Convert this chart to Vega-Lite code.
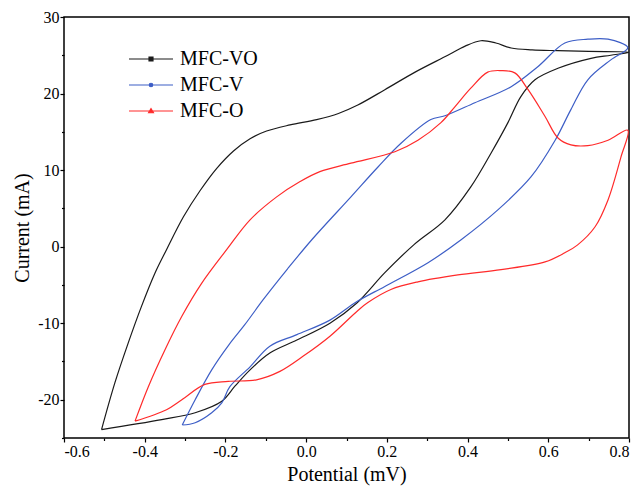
{
  "$schema": "https://vega.github.io/schema/vega-lite/v6.json",
  "width": 565,
  "height": 421,
  "autosize": {"type": "none"},
  "padding": {"left": 64, "top": 17, "right": 9, "bottom": 48},
  "background": "white",
  "config": {
    "view": {"stroke": "#000000", "strokeWidth": 1.5},
    "font": "Liberation Serif, Times New Roman, serif",
    "axis": {"labelFont": "Liberation Serif, Times New Roman, serif", "titleFont": "Liberation Serif, Times New Roman, serif"},
    "legend": {"labelFont": "Liberation Serif, Times New Roman, serif"}
  },
  "data": {
    "values": [
      {"s": "MFC-VO", "i": 1, "x": -0.507, "y": -23.9},
      {"s": "MFC-VO", "i": 2, "x": -0.474, "y": -17.8},
      {"s": "MFC-VO", "i": 3, "x": -0.441, "y": -12.6},
      {"s": "MFC-VO", "i": 4, "x": -0.408, "y": -7.8},
      {"s": "MFC-VO", "i": 5, "x": -0.375, "y": -3.5},
      {"s": "MFC-VO", "i": 6, "x": -0.346, "y": -0.4},
      {"s": "MFC-VO", "i": 7, "x": -0.304, "y": 3.9},
      {"s": "MFC-VO", "i": 8, "x": -0.263, "y": 7.3},
      {"s": "MFC-VO", "i": 9, "x": -0.222, "y": 10.2},
      {"s": "MFC-VO", "i": 10, "x": -0.18, "y": 12.5},
      {"s": "MFC-VO", "i": 11, "x": -0.139, "y": 14.1},
      {"s": "MFC-VO", "i": 12, "x": -0.098, "y": 15.1},
      {"s": "MFC-VO", "i": 13, "x": -0.04, "y": 15.9},
      {"s": "MFC-VO", "i": 14, "x": 0.026, "y": 16.6},
      {"s": "MFC-VO", "i": 15, "x": 0.08, "y": 17.4},
      {"s": "MFC-VO", "i": 16, "x": 0.128, "y": 18.5},
      {"s": "MFC-VO", "i": 17, "x": 0.195, "y": 20.5},
      {"s": "MFC-VO", "i": 18, "x": 0.27, "y": 22.8},
      {"s": "MFC-VO", "i": 19, "x": 0.351, "y": 25.0},
      {"s": "MFC-VO", "i": 20, "x": 0.394, "y": 26.2},
      {"s": "MFC-VO", "i": 21, "x": 0.433, "y": 26.9},
      {"s": "MFC-VO", "i": 22, "x": 0.47, "y": 26.6},
      {"s": "MFC-VO", "i": 23, "x": 0.508, "y": 25.95},
      {"s": "MFC-VO", "i": 24, "x": 0.56, "y": 25.7},
      {"s": "MFC-VO", "i": 25, "x": 0.624, "y": 25.6},
      {"s": "MFC-VO", "i": 26, "x": 0.7, "y": 25.5},
      {"s": "MFC-VO", "i": 27, "x": 0.8, "y": 25.4},
      {"s": "MFC-VO", "i": 28, "x": 0.755, "y": 25.0},
      {"s": "MFC-VO", "i": 29, "x": 0.706, "y": 24.6},
      {"s": "MFC-VO", "i": 30, "x": 0.624, "y": 23.3},
      {"s": "MFC-VO", "i": 31, "x": 0.567, "y": 21.8},
      {"s": "MFC-VO", "i": 32, "x": 0.532, "y": 19.6},
      {"s": "MFC-VO", "i": 33, "x": 0.5, "y": 16.2},
      {"s": "MFC-VO", "i": 34, "x": 0.458, "y": 12.2},
      {"s": "MFC-VO", "i": 35, "x": 0.408, "y": 7.8},
      {"s": "MFC-VO", "i": 36, "x": 0.344, "y": 3.5},
      {"s": "MFC-VO", "i": 37, "x": 0.268, "y": 0.3},
      {"s": "MFC-VO", "i": 38, "x": 0.195, "y": -3.4},
      {"s": "MFC-VO", "i": 39, "x": 0.125, "y": -7.4},
      {"s": "MFC-VO", "i": 40, "x": 0.059, "y": -10.0},
      {"s": "MFC-VO", "i": 41, "x": -0.023, "y": -12.2},
      {"s": "MFC-VO", "i": 42, "x": -0.09, "y": -13.9},
      {"s": "MFC-VO", "i": 43, "x": -0.139, "y": -16.1},
      {"s": "MFC-VO", "i": 44, "x": -0.176, "y": -18.2},
      {"s": "MFC-VO", "i": 45, "x": -0.209, "y": -20.2},
      {"s": "MFC-VO", "i": 46, "x": -0.275, "y": -21.7},
      {"s": "MFC-VO", "i": 47, "x": -0.358, "y": -22.6},
      {"s": "MFC-VO", "i": 48, "x": -0.507, "y": -23.9},

      {"s": "MFC-V", "i": 1, "x": -0.307, "y": -23.3},
      {"s": "MFC-V", "i": 2, "x": -0.275, "y": -20.0},
      {"s": "MFC-V", "i": 3, "x": -0.234, "y": -16.1},
      {"s": "MFC-V", "i": 4, "x": -0.191, "y": -12.8},
      {"s": "MFC-V", "i": 5, "x": -0.152, "y": -10.2},
      {"s": "MFC-V", "i": 6, "x": -0.106, "y": -6.9},
      {"s": "MFC-V", "i": 7, "x": -0.046, "y": -2.9},
      {"s": "MFC-V", "i": 8, "x": 0.014, "y": 0.9},
      {"s": "MFC-V", "i": 9, "x": 0.111, "y": 6.5},
      {"s": "MFC-V", "i": 10, "x": 0.178, "y": 10.4},
      {"s": "MFC-V", "i": 11, "x": 0.235, "y": 13.5},
      {"s": "MFC-V", "i": 12, "x": 0.309, "y": 16.6},
      {"s": "MFC-V", "i": 13, "x": 0.344, "y": 17.1},
      {"s": "MFC-V", "i": 14, "x": 0.418, "y": 18.8},
      {"s": "MFC-V", "i": 15, "x": 0.508, "y": 20.9},
      {"s": "MFC-V", "i": 16, "x": 0.574, "y": 23.5},
      {"s": "MFC-V", "i": 17, "x": 0.641, "y": 26.6},
      {"s": "MFC-V", "i": 18, "x": 0.698, "y": 27.1},
      {"s": "MFC-V", "i": 19, "x": 0.748, "y": 27.1},
      {"s": "MFC-V", "i": 20, "x": 0.797, "y": 26.0},
      {"s": "MFC-V", "i": 21, "x": 0.755, "y": 24.4},
      {"s": "MFC-V", "i": 22, "x": 0.698, "y": 21.8},
      {"s": "MFC-V", "i": 23, "x": 0.656, "y": 17.9},
      {"s": "MFC-V", "i": 24, "x": 0.617, "y": 13.9},
      {"s": "MFC-V", "i": 25, "x": 0.557, "y": 9.1},
      {"s": "MFC-V", "i": 26, "x": 0.475, "y": 4.8},
      {"s": "MFC-V", "i": 27, "x": 0.384, "y": 0.9},
      {"s": "MFC-V", "i": 28, "x": 0.302, "y": -2.1},
      {"s": "MFC-V", "i": 29, "x": 0.195, "y": -5.2},
      {"s": "MFC-V", "i": 30, "x": 0.125, "y": -7.2},
      {"s": "MFC-V", "i": 31, "x": 0.059, "y": -9.6},
      {"s": "MFC-V", "i": 32, "x": -0.023, "y": -11.5},
      {"s": "MFC-V", "i": 33, "x": -0.09, "y": -13.0},
      {"s": "MFC-V", "i": 34, "x": -0.139, "y": -15.7},
      {"s": "MFC-V", "i": 35, "x": -0.189, "y": -18.3},
      {"s": "MFC-V", "i": 36, "x": -0.209, "y": -20.4},
      {"s": "MFC-V", "i": 37, "x": -0.234, "y": -21.7},
      {"s": "MFC-V", "i": 38, "x": -0.275, "y": -23.0},
      {"s": "MFC-V", "i": 39, "x": -0.307, "y": -23.3},

      {"s": "MFC-O", "i": 1, "x": -0.424, "y": -22.8},
      {"s": "MFC-O", "i": 2, "x": -0.391, "y": -18.3},
      {"s": "MFC-O", "i": 3, "x": -0.35, "y": -13.5},
      {"s": "MFC-O", "i": 4, "x": -0.308, "y": -9.1},
      {"s": "MFC-O", "i": 5, "x": -0.259, "y": -4.8},
      {"s": "MFC-O", "i": 6, "x": -0.197, "y": -0.4},
      {"s": "MFC-O", "i": 7, "x": -0.139, "y": 3.5},
      {"s": "MFC-O", "i": 8, "x": -0.073, "y": 6.5},
      {"s": "MFC-O", "i": 9, "x": -0.015, "y": 8.5},
      {"s": "MFC-O", "i": 10, "x": 0.034, "y": 9.8},
      {"s": "MFC-O", "i": 11, "x": 0.111, "y": 10.9},
      {"s": "MFC-O", "i": 12, "x": 0.22, "y": 12.4},
      {"s": "MFC-O", "i": 13, "x": 0.277, "y": 13.9},
      {"s": "MFC-O", "i": 14, "x": 0.334, "y": 16.2},
      {"s": "MFC-O", "i": 15, "x": 0.369, "y": 18.3},
      {"s": "MFC-O", "i": 16, "x": 0.408, "y": 20.7},
      {"s": "MFC-O", "i": 17, "x": 0.45, "y": 22.8},
      {"s": "MFC-O", "i": 18, "x": 0.483, "y": 23.0},
      {"s": "MFC-O", "i": 19, "x": 0.517, "y": 22.7},
      {"s": "MFC-O", "i": 20, "x": 0.55, "y": 20.5},
      {"s": "MFC-O", "i": 21, "x": 0.592, "y": 17.0},
      {"s": "MFC-O", "i": 22, "x": 0.624, "y": 14.2},
      {"s": "MFC-O", "i": 23, "x": 0.656, "y": 13.3},
      {"s": "MFC-O", "i": 24, "x": 0.698, "y": 13.2},
      {"s": "MFC-O", "i": 25, "x": 0.748, "y": 13.9},
      {"s": "MFC-O", "i": 26, "x": 0.797, "y": 15.2},
      {"s": "MFC-O", "i": 27, "x": 0.78, "y": 11.7},
      {"s": "MFC-O", "i": 28, "x": 0.748, "y": 6.1},
      {"s": "MFC-O", "i": 29, "x": 0.716, "y": 2.6},
      {"s": "MFC-O", "i": 30, "x": 0.672, "y": 0.2},
      {"s": "MFC-O", "i": 31, "x": 0.641, "y": -0.8},
      {"s": "MFC-O", "i": 32, "x": 0.592, "y": -2.0},
      {"s": "MFC-O", "i": 33, "x": 0.483, "y": -3.0},
      {"s": "MFC-O", "i": 34, "x": 0.376, "y": -3.7},
      {"s": "MFC-O", "i": 35, "x": 0.277, "y": -4.6},
      {"s": "MFC-O", "i": 36, "x": 0.21, "y": -5.6},
      {"s": "MFC-O", "i": 37, "x": 0.153, "y": -7.3},
      {"s": "MFC-O", "i": 38, "x": 0.129, "y": -8.3},
      {"s": "MFC-O", "i": 39, "x": 0.059, "y": -11.7},
      {"s": "MFC-O", "i": 40, "x": -0.007, "y": -14.3},
      {"s": "MFC-O", "i": 41, "x": -0.065, "y": -16.3},
      {"s": "MFC-O", "i": 42, "x": -0.123, "y": -17.4},
      {"s": "MFC-O", "i": 43, "x": -0.193, "y": -17.6},
      {"s": "MFC-O", "i": 44, "x": -0.251, "y": -18.0},
      {"s": "MFC-O", "i": 45, "x": -0.308, "y": -20.0},
      {"s": "MFC-O", "i": 46, "x": -0.346, "y": -21.3},
      {"s": "MFC-O", "i": 47, "x": -0.424, "y": -22.8}
    ]
  },
  "mark": {"type": "line", "interpolate": "catmull-rom", "clip": true},
  "encoding": {
    "x": {
      "field": "x",
      "type": "quantitative",
      "scale": {"domain": [-0.6, 0.8], "nice": false, "zero": false},
      "axis": {
        "values": [-0.6, -0.5, -0.4, -0.3, -0.2, -0.1, 0, 0.1, 0.2, 0.3, 0.4, 0.5, 0.6, 0.7, 0.8],
        "labelExpr": "abs(round(datum.value*10)) % 2 == 0 ? replace(format(datum.value, '.1f'), '\u2212', '-') : ''",
        "tickSize": {"condition": {"test": "abs(round(datum.value*10)) % 2 == 0", "value": 4}, "value": 2.5},
        "domain": false,
        "grid": false,
        "tickColor": "#000000",
        "tickWidth": 1.2,
        "labelColor": "#000000",
        "labelFontSize": 16,
        "labelPadding": 1,
        "title": "Potential (mV)",
        "titleFontSize": 20,
        "titleFontWeight": "normal",
        "titleColor": "#000000",
        "titlePadding": 5
      }
    },
    "y": {
      "field": "y",
      "type": "quantitative",
      "scale": {"domain": [-25, 30], "nice": false, "zero": false},
      "axis": {
        "values": [-25, -20, -15, -10, -5, 0, 5, 10, 15, 20, 25, 30],
        "labelExpr": "abs(datum.value) % 10 == 0 ? replace(format(datum.value, 'd'), '\u2212', '-') : ''",
        "tickSize": {"condition": {"test": "abs(datum.value) % 10 == 0", "value": 4}, "value": 2.5},
        "domain": false,
        "grid": false,
        "tickColor": "#000000",
        "tickWidth": 1.2,
        "labelColor": "#000000",
        "labelFontSize": 16,
        "labelPadding": 1,
        "title": "Current (mA)",
        "titleFontSize": 20,
        "titleFontWeight": "normal",
        "titleColor": "#000000",
        "titlePadding": 5
      }
    },
    "color": {
      "field": "s",
      "type": "nominal",
      "scale": {"domain": ["MFC-VO", "MFC-V", "MFC-O"], "range": ["#1a1a1a", "#3d5ec6", "#ff2a2a"]},
      "legend": {
        "orient": "none",
        "legendX": 64,
        "legendY": 30,
        "title": null,
        "symbolSize": 484,
        "symbolStrokeWidth": 1.2,
        "labelFontSize": 20,
        "labelColor": "#000000",
        "labelOffset": 28,
        "rowPadding": 4,
        "encode": {
          "symbols": {
            "update": {
              "shape": {"signal": "datum.value === 'MFC-VO' ? 'M-1,0H3M0.82,-0.18H1.18V0.18H0.82Z' : datum.value === 'MFC-V' ? 'M-1,0H3M0.84,0A0.16,0.16 0 1,0 1.16,0A0.16,0.16 0 1,0 0.84,0Z' : 'M-1,0H3M0.78,0.16L1,-0.22L1.22,0.16Z'"},
              "fill": {"scale": "color", "field": "value"},
              "fillOpacity": {"value": 1}
            }
          }
        }
      }
    },
    "strokeWidth": {
      "field": "s",
      "type": "nominal",
      "scale": {"domain": ["MFC-VO", "MFC-V", "MFC-O"], "range": [1.2, 1.2, 2]},
      "legend": null
    },
    "order": {"field": "i", "type": "quantitative"}
  }
}
